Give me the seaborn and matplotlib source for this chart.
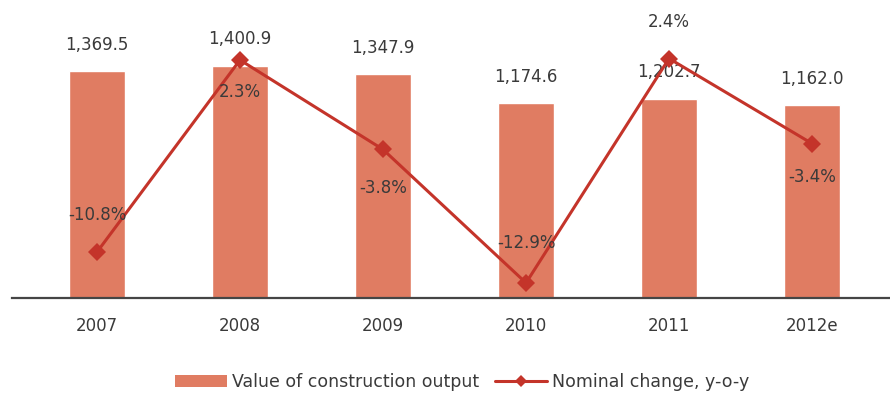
import matplotlib
matplotlib.use("Agg")
import matplotlib.pyplot as plt
import seaborn as sns
import numpy as np
import pandas as pd
from matplotlib.patches import Patch
from matplotlib.lines import Line2D

# Data
years = ["2007", "2008", "2009", "2010", "2011", "2012e"]
output_value = [1369.5, 1400.9, 1347.9, 1174.6, 1202.7, 1162.0]
nominal_change = [-10.8, 2.3, -3.8, -12.9, 2.4, -3.4]

bar_color = "#E07C62"
line_color = "#C4342A"
text_color = "#3A3A3A"

sns.set_theme(style="white")
plt.rcParams["font.family"] = ["DejaVu Sans"]

df = pd.DataFrame({"year": years, "value": output_value, "change": nominal_change})

fig = plt.figure(figsize=(8.9, 3.94), dpi=100)
ax = fig.add_axes([12 / 890, 96 / 394, 878 / 890, 298 / 394])

sns.barplot(data=df, x="year", y="value", color=bar_color, width=0.39,
            saturation=1, ax=ax)
ax.set_ylim(0, 1797)
ax.set_xlim(-0.594, 5.545)

ax2 = ax.twinx()
sns.lineplot(x=np.arange(len(years)), y=df["change"], color=line_color,
             linewidth=2.2, marker="D", markersize=9, markeredgewidth=0,
             ax=ax2)
ax2.set_ylim(-13.93, 6.39)
ax2.set_xlim(-0.594, 5.545)

for a in (ax, ax2):
    for s in a.spines.values():
        s.set_visible(False)
    a.set_yticks([])
    a.set_ylabel("")
    a.set_xlabel("")

ax.spines["bottom"].set_visible(True)
ax.spines["bottom"].set_color("#454545")
ax.spines["bottom"].set_linewidth(1.6)
ax.tick_params(axis="x", length=0, pad=14, labelsize=12, colors=text_color)
ax2.tick_params(axis="x", length=0, labelbottom=False)

# Bar value labels
for i, v in enumerate(output_value):
    ax.annotate(f"{v:,.1f}", (i, v), xytext=(0, 19), textcoords="offset points",
                ha="center", va="center", fontsize=12, color=text_color)

# Percentage labels, placed above or below each marker
pct_offsets = [27, -23, -28, 29, 26, -24]
for i, (c, off) in enumerate(zip(nominal_change, pct_offsets)):
    ax2.annotate(f"{c:.1f}%", (i, c), xytext=(0, off), textcoords="offset points",
                 ha="center", va="center", fontsize=12, color=text_color)

handles = [
    Patch(facecolor=bar_color, edgecolor="none"),
    Line2D([0], [0], color=line_color, linewidth=2.2, marker="D", markersize=6,
           markeredgewidth=0),
]
labels = ["Value of construction output", "Nominal change, y-o-y"]
fig.legend(handles, labels, loc="center", bbox_to_anchor=(462 / 890, 1 - 382 / 394),
           ncol=2, frameon=False, fontsize=12.5, handlelength=3.0, handleheight=0.75,
           columnspacing=0.9, handletextpad=0.3, labelcolor=text_color)

fig.savefig("out.png", dpi=100)
